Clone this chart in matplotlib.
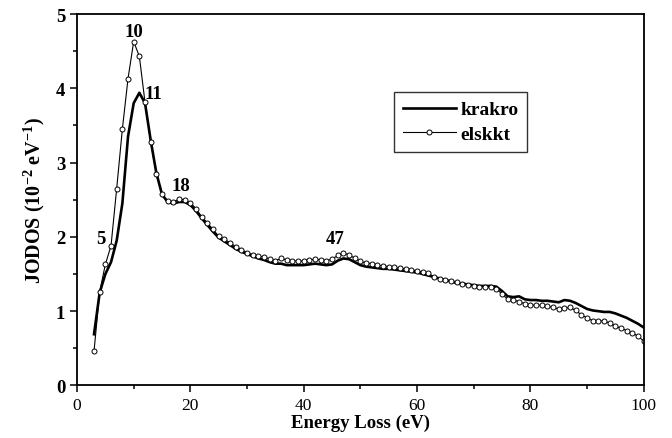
import matplotlib
matplotlib.use("Agg")
import matplotlib.pyplot as plt
from matplotlib.ticker import MultipleLocator

plt.rcParams['font.family'] = ['Liberation Serif', 'DejaVu Serif']
plt.rcParams['mathtext.fontset'] = 'custom'
plt.rcParams['mathtext.rm'] = 'Liberation Serif:bold'
plt.rcParams['mathtext.bf'] = 'Liberation Serif:bold'

# energy loss grid (eV)
energy = [3, 4, 5, 6, 7, 8, 9, 10, 11, 12, 13, 14, 15, 16, 17, 18, 19, 20,
          21, 22, 23, 24, 25, 26, 27, 28, 29, 30, 31, 32, 33, 34, 35, 36,
          37, 38, 39, 40, 41, 42, 43, 44, 45, 46, 47, 48, 49, 50, 51, 52,
          53, 54, 55, 56, 57, 58, 59, 60, 61, 62, 63, 64, 65, 66, 67, 68,
          69, 70, 71, 72, 73, 74, 75, 76, 77, 78, 79, 80, 81, 82, 83, 84,
          85, 86, 87, 88, 89, 90, 91, 92, 93, 94, 95, 96, 97, 98, 99, 100]

krakro = [0.69, 1.25, 1.50, 1.66, 1.95, 2.45, 3.35, 3.80, 3.94, 3.80,
          3.30, 2.86, 2.57, 2.47, 2.45, 2.47, 2.47, 2.43, 2.35, 2.25,
          2.16, 2.07, 1.99, 1.94, 1.89, 1.84, 1.80, 1.77, 1.74, 1.71,
          1.69, 1.66, 1.64, 1.64, 1.62, 1.62, 1.62, 1.62, 1.63, 1.64,
          1.63, 1.62, 1.63, 1.68, 1.71, 1.70, 1.66, 1.62, 1.60, 1.59,
          1.58, 1.57, 1.57, 1.56, 1.55, 1.54, 1.53, 1.52, 1.50, 1.48,
          1.46, 1.44, 1.42, 1.40, 1.38, 1.37, 1.36, 1.35, 1.34, 1.34,
          1.34, 1.33, 1.27, 1.20, 1.19, 1.20, 1.16, 1.15, 1.15, 1.14,
          1.14, 1.13, 1.12, 1.15, 1.14, 1.11, 1.07, 1.03, 1.01, 1.00,
          0.99, 0.99, 0.97, 0.94, 0.91, 0.87, 0.83, 0.78]

elskkt = [0.46, 1.26, 1.63, 1.88, 2.65, 3.45, 4.13, 4.63, 4.43, 3.81,
          3.28, 2.85, 2.58, 2.48, 2.47, 2.51, 2.50, 2.46, 2.38, 2.27,
          2.19, 2.10, 2.01, 1.97, 1.92, 1.87, 1.83, 1.79, 1.76, 1.74,
          1.73, 1.70, 1.68, 1.71, 1.69, 1.68, 1.67, 1.68, 1.69, 1.70,
          1.69, 1.68, 1.70, 1.75, 1.78, 1.76, 1.71, 1.67, 1.65, 1.64,
          1.62, 1.61, 1.60, 1.59, 1.58, 1.57, 1.56, 1.54, 1.53, 1.51,
          1.46, 1.44, 1.42, 1.41, 1.39, 1.37, 1.35, 1.34, 1.33, 1.33,
          1.32, 1.30, 1.23, 1.16, 1.15, 1.13, 1.10, 1.08, 1.08, 1.08,
          1.07, 1.05, 1.03, 1.04, 1.05, 1.01, 0.95, 0.91, 0.87, 0.87,
          0.87, 0.84, 0.80, 0.77, 0.74, 0.71, 0.66, 0.60]

# peak labels: text, x, y
peak_labels = ['5', '10', '11', '18', '47']
peak_x = [4.2, 10.0, 13.4, 18.3, 45.5]
peak_y = [1.98, 4.76, 3.93, 2.69, 1.98]


def main():
    fig = plt.figure(figsize=(6.72, 4.39), dpi=100)
    ax = fig.add_axes([0.1146, 0.1196, 0.8434, 0.8462])

    ax.plot(energy, krakro, color='black', lw=1.9, label='krakro')
    ax.plot(energy, elskkt, color='black', lw=0.8, marker='o', ms=3.6,
            mfc='white', mec='black', mew=0.7, label='elskkt')

    for t, x, y in zip(peak_labels, peak_x, peak_y):
        ax.text(x, y, t, ha='center', va='center', fontsize=13.5,
                fontweight='bold')

    ax.set_xlim(0, 100)
    ax.set_ylim(0, 5)
    ax.xaxis.set_major_locator(MultipleLocator(20))
    ax.xaxis.set_minor_locator(MultipleLocator(10))
    ax.yaxis.set_major_locator(MultipleLocator(1))
    ax.yaxis.set_minor_locator(MultipleLocator(0.5))
    ax.tick_params(which='major', direction='out', length=5, width=1.1,
                   labelsize=12.5)
    ax.tick_params(which='minor', direction='out', length=3, width=1.1)
    for lab in ax.get_yticklabels():
        lab.set_fontweight('bold')
        lab.set_fontsize(13.5)
    for s in ax.spines.values():
        s.set_linewidth(1.3)

    ax.set_xlabel('Energy Loss (eV)', fontsize=13.5, fontweight='bold',
                  labelpad=0)
    ax.set_ylabel(r'JODOS (10$^{\mathbf{-2}}$ eV$^{\mathbf{-1}}$)',
                  fontsize=14.5, fontweight='bold', labelpad=6)

    leg = ax.legend(loc='upper left', bbox_to_anchor=(0.56, 0.79),
                    frameon=True, fancybox=False, handlelength=2.7,
                    prop={'weight': 'bold', 'size': 14}, borderpad=0.45,
                    labelspacing=0.35, handletextpad=0.25,
                    borderaxespad=0)
    leg.get_frame().set_edgecolor('black')
    leg.get_frame().set_linewidth(1.0)

    fig.savefig('out.png', dpi=100)


if __name__ == "__main__":
    main()
